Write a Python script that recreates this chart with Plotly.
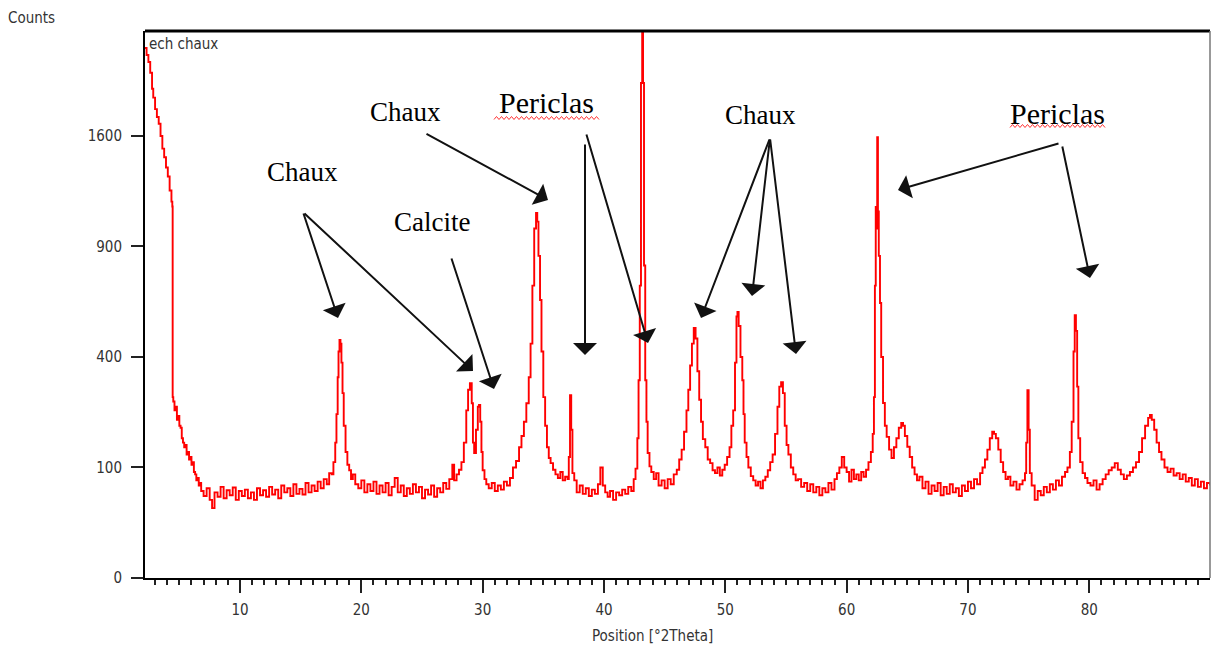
import math
import plotly.graph_objects as go

# ---------------- data (2theta in degrees, counts) ----------------
low_angle = [(2.17, 2300), (2.3, 2240), (2.45, 2180), (2.6, 2090), (2.75, 1960), (2.85, 1890),
             (3.0, 1800), (3.15, 1740), (3.3, 1690), (3.45, 1600), (3.6, 1510), (3.75, 1450),
             (3.9, 1380), (4.05, 1320), (4.2, 1230), (4.35, 1160), (4.42, 1130), (4.45, 268),
             (4.5, 255), (4.6, 230), (4.7, 240), (4.8, 205), (4.9, 215), (5.0, 190), (5.1, 185),
             (5.2, 160), (5.3, 150), (5.4, 140), (5.5, 145), (5.6, 125), (5.7, 130), (5.8, 115),
             (5.9, 120), (6.0, 105), (6.1, 110), (6.2, 92), (6.3, 88), (6.4, 78), (6.5, 82),
             (6.6, 70), (6.7, 74), (6.8, 62)]
background_7_17 = [(7.0, 55), (7.25, 66), (7.5, 50), (7.7, 40), (7.9, 60), (8.15, 54), (8.4, 68),
                   (8.65, 52), (8.9, 63), (9.15, 56), (9.4, 67), (9.65, 50), (9.9, 62), (10.15, 55),
                   (10.4, 64), (10.65, 52), (10.9, 60), (11.15, 50), (11.4, 66), (11.65, 56),
                   (11.9, 63), (12.15, 54), (12.4, 68), (12.65, 57), (12.9, 64), (13.15, 52),
                   (13.4, 70), (13.65, 60), (13.9, 66), (14.15, 55), (14.4, 72), (14.65, 58),
                   (14.9, 65), (15.15, 57), (15.4, 74), (15.65, 60), (15.9, 70), (16.15, 62),
                   (16.4, 76), (16.65, 66), (16.9, 80), (17.15, 72)]
peak_18 = [(17.35, 90), (17.55, 88), (17.7, 110), (17.85, 150), (17.95, 220), (18.05, 330),
           (18.12, 420), (18.2, 464), (18.28, 450), (18.36, 380), (18.45, 280), (18.55, 190),
           (18.7, 130), (18.85, 105), (19.0, 95), (19.15, 80), (19.3, 88), (19.5, 72)]
background_20_28 = [(19.75, 66), (20.0, 78), (20.25, 60), (20.5, 72), (20.75, 62), (21.0, 76),
                    (21.25, 58), (21.5, 70), (21.75, 60), (22.0, 74), (22.25, 56), (22.5, 68),
                    (22.75, 82), (23.0, 60), (23.25, 70), (23.5, 55), (23.75, 66), (24.0, 58),
                    (24.25, 72), (24.5, 60), (24.75, 68), (25.0, 52), (25.25, 64), (25.5, 57),
                    (25.75, 70), (26.0, 54), (26.25, 66), (26.5, 60), (26.75, 74), (27.0, 65),
                    (27.25, 80), (27.5, 105), (27.65, 78), (27.85, 88), (28.05, 96), (28.25, 110)]
peaks_29_34 = [(28.45, 150), (28.65, 230), (28.8, 290), (28.95, 311), (29.1, 250), (29.2, 150),
               (29.3, 128), (29.45, 180), (29.6, 240), (29.7, 245), (29.8, 200), (29.9, 130),
               (30.0, 95), (30.15, 80), (30.3, 72), (30.5, 66), (30.75, 74), (31.0, 62),
               (31.25, 70), (31.5, 64), (31.75, 76), (32.0, 70), (32.25, 82), (32.5, 100),
               (32.75, 112), (33.0, 140), (33.2, 165), (33.4, 200), (33.6, 250), (33.8, 330),
               (33.95, 450), (34.1, 700), (34.25, 1000), (34.4, 1091), (34.5, 1040), (34.6, 850),
               (34.73, 633), (34.85, 420), (35.0, 268), (35.15, 190), (35.3, 140), (35.45, 118),
               (35.6, 108), (35.8, 96), (36.0, 88), (36.2, 82), (36.4, 92), (36.6, 78),
               (36.8, 84), (37.0, 80), (37.1, 120), (37.2, 274), (37.3, 180), (37.4, 90),
               (37.55, 78), (37.75, 60)]
peaks_38_47 = [(38.0, 70), (38.25, 58), (38.5, 66), (38.75, 55), (39.0, 64), (39.25, 58),
               (39.5, 72), (39.7, 100), (39.9, 70), (40.1, 60), (40.3, 54), (40.5, 62),
               (40.75, 50), (41.0, 60), (41.25, 56), (41.5, 64), (41.75, 58), (42.0, 68),
               (42.25, 62), (42.45, 80), (42.6, 98), (42.75, 160), (42.85, 320), (42.95, 700),
               (43.05, 2007), (43.15, 3500), (43.22, 2007), (43.3, 800), (43.4, 320), (43.5, 200),
               (43.6, 128), (43.75, 102), (43.9, 92), (44.1, 80), (44.3, 90), (44.5, 70),
               (44.75, 78), (45.0, 66), (45.25, 80), (45.5, 72), (45.75, 88), (46.0, 96),
               (46.2, 115), (46.4, 135), (46.6, 175), (46.8, 230), (46.95, 290), (47.1, 370),
               (47.25, 450), (47.4, 512), (47.55, 470), (47.7, 350), (47.85, 260), (48.0, 200),
               (48.15, 158), (48.35, 140), (48.55, 115), (48.75, 108), (48.95, 95), (49.15, 90)]
peaks_51_54 = [(49.35, 100), (49.55, 86), (49.75, 96), (49.95, 105), (50.15, 120), (50.35, 140),
               (50.5, 190), (50.65, 230), (50.8, 380), (50.92, 560), (51.0, 580), (51.1, 520),
               (51.25, 400), (51.4, 320), (51.5, 220), (51.6, 150), (51.75, 120), (51.9, 100),
               (52.1, 85), (52.3, 78), (52.5, 70), (52.7, 76), (52.9, 66), (53.1, 78),
               (53.3, 84), (53.5, 95), (53.7, 110), (53.9, 125), (54.1, 170), (54.3, 240),
               (54.45, 300), (54.6, 314), (54.75, 280), (54.9, 190), (55.05, 145), (55.2, 125),
               (55.4, 100), (55.6, 88), (55.8, 78), (56.0, 80)]
peaks_60_65 = [(56.25, 68), (56.5, 74), (56.75, 62), (57.0, 72), (57.25, 60), (57.5, 68),
               (57.75, 56), (58.0, 66), (58.25, 60), (58.5, 74), (58.75, 64), (59.0, 80),
               (59.2, 90), (59.4, 100), (59.6, 120), (59.8, 100), (60.0, 92), (60.2, 76),
               (60.4, 96), (60.6, 80), (60.8, 88), (61.0, 78), (61.2, 92), (61.4, 84),
               (61.6, 96), (61.8, 110), (62.0, 130), (62.15, 170), (62.25, 268), (62.33, 700),
               (62.4, 1127), (62.45, 1000), (62.52, 1592), (62.58, 1100), (62.65, 850),
               (62.75, 619), (62.85, 400), (63.0, 251), (63.15, 190), (63.3, 163), (63.5, 135),
               (63.7, 118), (63.9, 140), (64.1, 160), (64.3, 185), (64.5, 197), (64.65, 190),
               (64.8, 165), (65.0, 141), (65.2, 120), (65.4, 100), (65.6, 88), (65.8, 78)]
peaks_72_79 = [(66.0, 84), (66.25, 66), (66.5, 76), (66.75, 58), (67.0, 70), (67.25, 62),
               (67.5, 74), (67.75, 56), (68.0, 68), (68.25, 58), (68.5, 72), (68.75, 60),
               (69.0, 66), (69.25, 55), (69.5, 70), (69.75, 62), (70.0, 76), (70.25, 66),
               (70.5, 80), (70.75, 72), (71.0, 90), (71.2, 100), (71.4, 115), (71.6, 135),
               (71.8, 160), (72.0, 175), (72.15, 170), (72.3, 160), (72.5, 135), (72.7, 110),
               (72.9, 92), (73.1, 80), (73.3, 84), (73.5, 70), (73.75, 76), (74.0, 64),
               (74.25, 72), (74.5, 78), (74.7, 90), (74.8, 150), (74.9, 289), (75.0, 180),
               (75.1, 90), (75.25, 70), (75.5, 50), (75.75, 62), (76.0, 56), (76.25, 68),
               (76.5, 60), (76.75, 72), (77.0, 64), (77.25, 78), (77.5, 70), (77.75, 84),
               (78.0, 92), (78.2, 100), (78.4, 130), (78.55, 200), (78.7, 420), (78.8, 566),
               (78.9, 500), (79.0, 300), (79.1, 160), (79.25, 110), (79.45, 90), (79.65, 82),
               (79.85, 74)]
peaks_82_90 = [(80.1, 70), (80.35, 78), (80.6, 64), (80.85, 72), (81.1, 80), (81.35, 88),
               (81.6, 95), (81.85, 100), (82.1, 108), (82.35, 96), (82.6, 88), (82.85, 80),
               (83.1, 86), (83.35, 92), (83.6, 100), (83.85, 110), (84.1, 130), (84.35, 160),
               (84.6, 190), (84.85, 210), (85.0, 218), (85.15, 205), (85.35, 180), (85.55, 150),
               (85.75, 130), (85.95, 115), (86.2, 100), (86.45, 92), (86.7, 98), (86.95, 86),
               (87.2, 90), (87.45, 80), (87.7, 88), (87.95, 76), (88.2, 82), (88.45, 70),
               (88.7, 80), (88.95, 68), (89.2, 76), (89.45, 66), (89.7, 74), (89.95, 70)]

segments = [low_angle, background_7_17, peak_18, background_20_28, peaks_29_34,
            peaks_38_47, peaks_51_54, peaks_60_65, peaks_72_79, peaks_82_90]
two_theta = [p[0] for s in segments for p in s]
counts = [p[1] for s in segments for p in s]

y_tick_counts = [0, 100, 400, 900, 1600]
x_tick_vals = [10, 20, 30, 40, 50, 60, 70, 80]

labels = ["Chaux", "Calcite", "Chaux", "Periclas", "Chaux", "Periclas"]

# ---------------- figure ----------------
# y axis is a square-root scale: plot sqrt(counts)
sqrt_counts = [math.sqrt(c) for c in counts]

fig = go.Figure()
fig.add_trace(go.Scatter(
    x=two_theta, y=sqrt_counts, mode="lines", line_shape="hv",
    line=dict(color="#ff0000", width=1.9), hoverinfo="skip", showlegend=False))

W, H = 1211, 645
L, R, T, B = 145, 1, 31, 67
X0, X1 = 2.17, 89.95
Y0, Y1 = 0.0, 49.5


def dx(px):
    return X0 + (px - L) / (W - L - R) * (X1 - X0)


def dy(py):
    return Y0 + (H - B - py) / (H - T - B) * (Y1 - Y0)


tick_font = dict(family="Liberation Sans Narrow, DejaVu Sans Condensed, Liberation Sans, Arial",
                 size=15, color="#333333")
serif = "Liberation Serif, Times New Roman, serif"

annotations = []
# label texts: (center px x, center px y, size)
text_pos = [(302, 172, 27), (432, 222, 27), (405, 112, 27), (546, 102, 30), (760, 115, 27),
            (1057, 113, 30)]
for txt, (px, py, sz) in zip(labels, text_pos):
    annotations.append(dict(x=dx(px), y=dy(py), xref="x", yref="y", text=txt, showarrow=False,
                            font=dict(family=serif, size=sz, color="#000000"),
                            xanchor="center", yanchor="middle"))

arrows = [((303, 212), (338, 318)), ((303, 212), (473, 371)), ((451, 257), (494, 389)),
          ((425, 133), (548, 200)), ((585, 143), (585, 355)), ((586, 133), (648, 343)),
          ((770, 138), (701, 318)), ((770, 138), (752, 296)), ((770, 138), (796, 354)),
          ((1060, 143), (898, 190)), ((1062, 145), (1090, 278))]
for (tx, ty), (hx, hy) in arrows:
    annotations.append(dict(x=dx(hx), y=dy(hy), ax=dx(tx), ay=dy(ty), xref="x", yref="y",
                            axref="x", ayref="y", text="", showarrow=True, arrowhead=1,
                            arrowsize=2.0, arrowwidth=2, arrowcolor="#111111", standoff=0,
                            startstandoff=0))

annotations.append(dict(x=(31 - L) / (W - L - R), y=(H - B - 18) / (H - T - B), xref="paper",
                        yref="paper", text="Counts", showarrow=False, xanchor="center",
                        yanchor="middle", font=tick_font))
annotations.append(dict(x=0.002, y=0.996, xref="paper", yref="paper", text="ech chaux",
                        showarrow=False, xanchor="left", yanchor="top", font=tick_font))
annotations.append(dict(x=(652 - L) / (W - L - R), y=(H - B - 636) / (H - T - B), xref="paper",
                        yref="paper", text="Position [°2Theta]", showarrow=False,
                        xanchor="center", yanchor="middle", font=tick_font))


def wavy(x_start, x_end, py):
    pts = []
    px = x_start
    k = 0
    while px <= x_end:
        off = 1.5 if k % 2 == 0 else -1.5
        pts.append((dx(px), dy(py + off)))
        px += 2.5
        k += 1
    return "M " + " L ".join(f"{a:.4f},{b:.4f}" for a, b in pts)


shapes = [
    dict(type="line", xref="paper", yref="paper", x0=0, x1=1, y0=1, y1=1,
         line=dict(color="black", width=3)),
    dict(type="line", xref="paper", yref="paper", x0=1, x1=1, y0=0, y1=1,
         line=dict(color="#777777", width=1.5)),
    dict(type="path", xref="x", yref="y", path=wavy(494, 601, 118),
         line=dict(color="#ff3333", width=1)),
    dict(type="path", xref="x", yref="y", path=wavy(1010, 1106, 126),
         line=dict(color="#ff3333", width=1)),
]

fig.update_layout(
    width=W, height=H, margin=dict(l=L, r=R, t=T, b=B, pad=0),
    plot_bgcolor="white", paper_bgcolor="white",
    annotations=annotations, shapes=shapes, showlegend=False,
    xaxis=dict(range=[X0, X1], tickvals=x_tick_vals, ticks="outside", ticklen=13, tickwidth=2,
               tickcolor="#222222", showline=True, linecolor="black", linewidth=2,
               showgrid=False, zeroline=False, tickfont=tick_font, ticklabelstandoff=4,
               minor=dict(dtick=1, tick0=0, ticks="outside", ticklen=5, tickwidth=1.5,
                          tickcolor="#222222", showgrid=False)),
    yaxis=dict(range=[Y0, Y1], tickvals=[math.sqrt(v) for v in y_tick_counts],
               ticktext=[str(v) for v in y_tick_counts], ticks="outside", ticklen=12,
               tickwidth=2, tickcolor="#222222", showline=True, linecolor="black",
               linewidth=2, showgrid=False, zeroline=False, tickfont=tick_font,
               ticklabelstandoff=6),
)

fig.write_html("out.html")
